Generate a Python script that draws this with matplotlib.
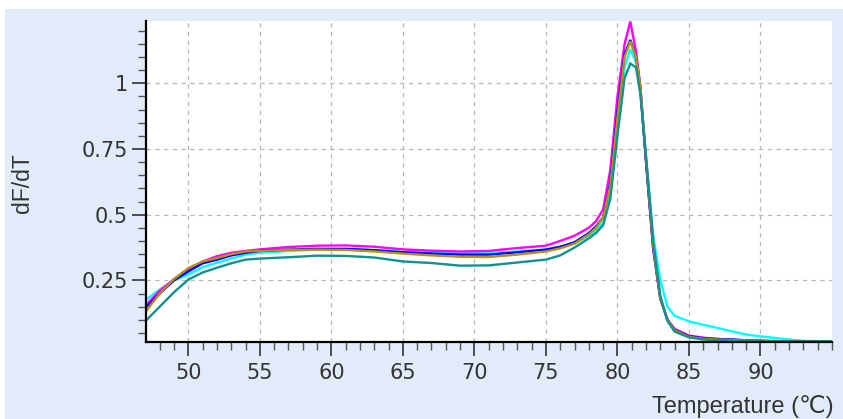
import matplotlib
matplotlib.use("Agg")
import matplotlib.pyplot as plt
from matplotlib.patches import Rectangle
from matplotlib.ticker import FixedLocator, MultipleLocator, FixedFormatter

plt.rcParams['font.family'] = ['Liberation Sans', 'DejaVu Sans']

temperature = [47, 48, 49, 50, 51, 52, 53, 54, 55,
               57, 59, 61, 63, 65, 67, 69, 71, 73, 75,
               76, 77, 78, 78.5, 79, 79.5, 80, 80.5,
               80.9, 81.3, 81.6, 82, 82.5, 83, 83.5, 84,
               85, 86, 87, 88, 89, 90, 91, 92, 93, 95]

cyan_vals = [0.175, 0.215, 0.25, 0.272, 0.30, 0.317, 0.333, 0.348, 0.355,
             0.362, 0.367, 0.368, 0.365, 0.358, 0.356, 0.354, 0.354, 0.36, 0.368,
             0.378, 0.39, 0.42, 0.44, 0.47, 0.58, 0.84, 1.06,
             1.13, 1.08, 0.97, 0.72, 0.42, 0.25, 0.15, 0.115,
             0.094, 0.081, 0.069, 0.056, 0.044, 0.037, 0.031, 0.025, 0.02, 0.017]

magenta_vals = [0.155, 0.21, 0.255, 0.29, 0.322, 0.342, 0.355, 0.362, 0.368,
                0.377, 0.382, 0.383, 0.378, 0.368, 0.363, 0.36, 0.362, 0.373, 0.382,
                0.40, 0.42, 0.45, 0.475, 0.52, 0.67, 0.95, 1.15,
                1.235, 1.12, 0.99, 0.70, 0.37, 0.18, 0.10, 0.065,
                0.04, 0.032, 0.027, 0.024, 0.022, 0.02, 0.018, 0.017, 0.017, 0.017]

blue_vals = [0.146, 0.20, 0.25, 0.284, 0.315, 0.329, 0.345, 0.355, 0.362,
             0.367, 0.37, 0.37, 0.365, 0.357, 0.352, 0.348, 0.348, 0.357, 0.367,
             0.378, 0.395, 0.43, 0.455, 0.49, 0.62, 0.89, 1.11,
             1.165, 1.10, 0.98, 0.70, 0.37, 0.18, 0.10, 0.062,
             0.037, 0.03, 0.027, 0.025, 0.022, 0.02, 0.019, 0.018, 0.017, 0.017]

gold_vals = [0.13, 0.20, 0.255, 0.297, 0.322, 0.335, 0.35, 0.36, 0.362,
             0.366, 0.367, 0.366, 0.36, 0.352, 0.345, 0.34, 0.339, 0.348, 0.36,
             0.372, 0.39, 0.425, 0.45, 0.49, 0.61, 0.87, 1.10,
             1.16, 1.10, 0.99, 0.71, 0.38, 0.18, 0.10, 0.06,
             0.035, 0.028, 0.025, 0.023, 0.021, 0.02, 0.019, 0.018, 0.017, 0.017]

teal_vals = [0.095, 0.15, 0.205, 0.253, 0.28, 0.298, 0.315, 0.329, 0.333,
             0.338, 0.344, 0.343, 0.337, 0.322, 0.316, 0.306, 0.307, 0.318, 0.329,
             0.345, 0.375, 0.41, 0.43, 0.46, 0.56, 0.80, 1.02,
             1.075, 1.06, 0.96, 0.72, 0.40, 0.19, 0.095, 0.055,
             0.033, 0.025, 0.022, 0.02, 0.019, 0.018, 0.018, 0.018, 0.018, 0.018]

series = [
    ("cyan", cyan_vals, "#00FFFF"),
    ("magenta", magenta_vals, "#FF00FF"),
    ("blue", blue_vals, "#0000FF"),
    ("gold", gold_vals, "#B8900C"),
    ("teal", teal_vals, "#139090"),
]

x_ticks = [50, 55, 60, 65, 70, 75, 80, 85, 90]
y_ticks = [0.25, 0.5, 0.75, 1.0]
y_tick_labels = ["0.25", "0.5", "0.75", "1"]

W, H = 843, 419
fig = plt.figure(figsize=(W / 100, H / 100), dpi=100, facecolor="white")
bg = Rectangle((5 / W, 0), 1 - 5 / W, 1 - 9 / H,
               transform=fig.transFigure, facecolor="#E2EBFA",
               edgecolor="none", zorder=-10)
fig.patches.append(bg)

ax = fig.add_axes([146 / W, (H - 342) / H, (832 - 146) / W, (342 - 21) / H])
ax.set_zorder(5)
ax.set_facecolor("white")

for name, vals, col in series:
    ax.plot(temperature, vals, color=col, lw=1.7, solid_joinstyle="miter", zorder=3)

ax.set_xlim(47.04, 95.0)
ax.set_ylim(0.0155, 1.237)

ax.xaxis.set_major_locator(FixedLocator(x_ticks))
ax.xaxis.set_minor_locator(MultipleLocator(1))
ax.yaxis.set_major_locator(FixedLocator(y_ticks))
ax.yaxis.set_major_formatter(FixedFormatter(y_tick_labels))
ax.yaxis.set_minor_locator(MultipleLocator(0.05))

ax.grid(True, which="major", color="#B8B8B8", linestyle=(0, (3.5, 3.5)), lw=0.9, zorder=1)
ax.set_axisbelow(True)

for s in ["top", "right"]:
    ax.spines[s].set_visible(False)
for s in ["left", "bottom"]:
    ax.spines[s].set_linewidth(1.6)
    ax.spines[s].set_color("black")
    ax.spines[s].set_zorder(4)

ax.tick_params(axis="both", which="major", length=10, width=1.2, color="#333333",
               labelsize=15, labelcolor="#333333")
ax.tick_params(axis="both", which="minor", length=6, width=1.0, color="#555555")
ax.tick_params(axis="x", which="major", pad=5)
ax.tick_params(axis="y", which="major", pad=3)
for lab in ax.get_xticklabels() + ax.get_yticklabels():
    lab.set_fontfamily(["DejaVu Sans"])

fig.text(22 / W, 1 - 183 / H, "dF/dT", rotation=90, ha="center", va="center",
         fontsize=16.5, color="#333333", zorder=6)
fig.text(834 / W, (H - 413) / H, "Temperature (\u2103)", ha="right", va="baseline",
         fontsize=17, color="#333333", zorder=6)

fig.savefig("out.png", dpi=100, facecolor=fig.get_facecolor())
